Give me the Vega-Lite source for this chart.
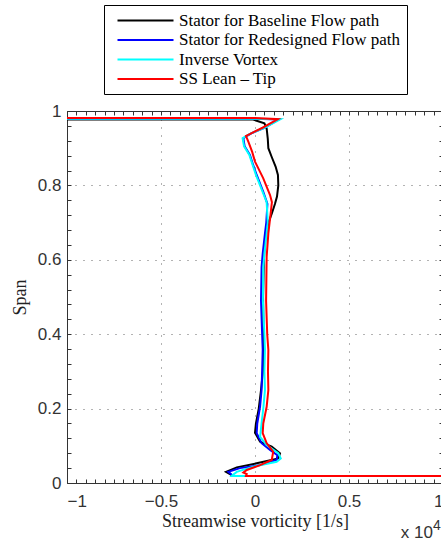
{
  "$schema": "https://vega.github.io/schema/vega-lite/v6.json",
  "width": 376,
  "height": 372,
  "autosize": "none",
  "padding": {"left": 67, "top": 111, "right": 0, "bottom": 60},
  "background": "white",
  "config": {
    "view": {"stroke": null},
    "axis": {
      "domainColor": "#333",
      "tickColor": "#333",
      "tickSize": -4,
      "labelFont": "Liberation Sans",
      "labelFontSize": 17,
      "labelColor": "#333",
      "labelOverlap": false,
      "titleFont": "Liberation Serif",
      "titleFontSize": 18,
      "titleFontWeight": "normal",
      "titleColor": "#222",
      "gridColor": "#666",
      "gridDash": [1, 7],
      "gridWidth": 1
    },
    "legend": {
      "orient": "none",
      "legendX": 37,
      "legendY": -106,
      "symbolType": "M-4,0H4",
      "symbolSize": 196,
      "symbolStrokeWidth": 2,
      "labelFont": "Liberation Serif",
      "labelFontSize": 17,
      "labelColor": "black",
      "labelLimit": 0,
      "labelOffset": 25,
      "strokeColor": "black",
      "fillColor": "white",
      "padding": 7,
      "symbolOffset": 26,
      "rowPadding": 1.5
    }
  },
  "data": {"values": [
    {"s": "Stator for Baseline Flow path", "i": 0, "x": -1, "y": 0.977},
    {"s": "Stator for Baseline Flow path", "i": 1, "x": -0.01, "y": 0.977},
    {"s": "Stator for Baseline Flow path", "i": 2, "x": 0.05, "y": 0.967},
    {"s": "Stator for Baseline Flow path", "i": 3, "x": 0.062, "y": 0.953},
    {"s": "Stator for Baseline Flow path", "i": 4, "x": 0.068, "y": 0.925},
    {"s": "Stator for Baseline Flow path", "i": 5, "x": 0.071, "y": 0.9},
    {"s": "Stator for Baseline Flow path", "i": 6, "x": 0.09, "y": 0.875},
    {"s": "Stator for Baseline Flow path", "i": 7, "x": 0.11, "y": 0.85},
    {"s": "Stator for Baseline Flow path", "i": 8, "x": 0.122, "y": 0.828},
    {"s": "Stator for Baseline Flow path", "i": 9, "x": 0.124, "y": 0.8},
    {"s": "Stator for Baseline Flow path", "i": 10, "x": 0.117, "y": 0.77},
    {"s": "Stator for Baseline Flow path", "i": 11, "x": 0.106, "y": 0.75},
    {"s": "Stator for Baseline Flow path", "i": 12, "x": 0.09, "y": 0.725},
    {"s": "Stator for Baseline Flow path", "i": 13, "x": 0.072, "y": 0.7},
    {"s": "Stator for Baseline Flow path", "i": 14, "x": 0.06, "y": 0.675},
    {"s": "Stator for Baseline Flow path", "i": 15, "x": 0.053, "y": 0.65},
    {"s": "Stator for Baseline Flow path", "i": 16, "x": 0.047, "y": 0.6},
    {"s": "Stator for Baseline Flow path", "i": 17, "x": 0.043, "y": 0.5},
    {"s": "Stator for Baseline Flow path", "i": 18, "x": 0.045, "y": 0.4},
    {"s": "Stator for Baseline Flow path", "i": 19, "x": 0.042, "y": 0.3},
    {"s": "Stator for Baseline Flow path", "i": 20, "x": 0.032, "y": 0.25},
    {"s": "Stator for Baseline Flow path", "i": 21, "x": 0.02, "y": 0.2},
    {"s": "Stator for Baseline Flow path", "i": 22, "x": 0.005, "y": 0.16},
    {"s": "Stator for Baseline Flow path", "i": 23, "x": 0.0, "y": 0.135},
    {"s": "Stator for Baseline Flow path", "i": 24, "x": 0.027, "y": 0.111},
    {"s": "Stator for Baseline Flow path", "i": 25, "x": 0.089, "y": 0.098},
    {"s": "Stator for Baseline Flow path", "i": 26, "x": 0.133, "y": 0.08},
    {"s": "Stator for Baseline Flow path", "i": 27, "x": 0.124, "y": 0.066},
    {"s": "Stator for Baseline Flow path", "i": 28, "x": 0.009, "y": 0.053},
    {"s": "Stator for Baseline Flow path", "i": 29, "x": -0.097, "y": 0.042},
    {"s": "Stator for Baseline Flow path", "i": 30, "x": -0.154, "y": 0.03},
    {"s": "Stator for Baseline Flow path", "i": 31, "x": -0.133, "y": 0.024},
    {"s": "Stator for Baseline Flow path", "i": 32, "x": -0.115, "y": 0.019},
    {"s": "Stator for Baseline Flow path", "i": 33, "x": 1, "y": 0.019},

    {"s": "Stator for Redesigned Flow path", "i": 0, "x": -1, "y": 0.979},
    {"s": "Stator for Redesigned Flow path", "i": 1, "x": 0.0, "y": 0.979},
    {"s": "Stator for Redesigned Flow path", "i": 2, "x": 0.125, "y": 0.977},
    {"s": "Stator for Redesigned Flow path", "i": 3, "x": 0.05, "y": 0.955},
    {"s": "Stator for Redesigned Flow path", "i": 4, "x": -0.02, "y": 0.94},
    {"s": "Stator for Redesigned Flow path", "i": 5, "x": -0.062, "y": 0.927},
    {"s": "Stator for Redesigned Flow path", "i": 6, "x": -0.055, "y": 0.905},
    {"s": "Stator for Redesigned Flow path", "i": 7, "x": -0.027, "y": 0.882},
    {"s": "Stator for Redesigned Flow path", "i": 8, "x": -0.01, "y": 0.855},
    {"s": "Stator for Redesigned Flow path", "i": 9, "x": 0.009, "y": 0.828},
    {"s": "Stator for Redesigned Flow path", "i": 10, "x": 0.044, "y": 0.783},
    {"s": "Stator for Redesigned Flow path", "i": 11, "x": 0.066, "y": 0.75},
    {"s": "Stator for Redesigned Flow path", "i": 12, "x": 0.06, "y": 0.7},
    {"s": "Stator for Redesigned Flow path", "i": 13, "x": 0.053, "y": 0.671},
    {"s": "Stator for Redesigned Flow path", "i": 14, "x": 0.041, "y": 0.617},
    {"s": "Stator for Redesigned Flow path", "i": 15, "x": 0.035, "y": 0.58},
    {"s": "Stator for Redesigned Flow path", "i": 16, "x": 0.032, "y": 0.49},
    {"s": "Stator for Redesigned Flow path", "i": 17, "x": 0.038, "y": 0.4},
    {"s": "Stator for Redesigned Flow path", "i": 18, "x": 0.041, "y": 0.358},
    {"s": "Stator for Redesigned Flow path", "i": 19, "x": 0.038, "y": 0.3},
    {"s": "Stator for Redesigned Flow path", "i": 20, "x": 0.035, "y": 0.25},
    {"s": "Stator for Redesigned Flow path", "i": 21, "x": 0.027, "y": 0.205},
    {"s": "Stator for Redesigned Flow path", "i": 22, "x": 0.012, "y": 0.16},
    {"s": "Stator for Redesigned Flow path", "i": 23, "x": 0.009, "y": 0.134},
    {"s": "Stator for Redesigned Flow path", "i": 24, "x": 0.035, "y": 0.107},
    {"s": "Stator for Redesigned Flow path", "i": 25, "x": 0.08, "y": 0.089},
    {"s": "Stator for Redesigned Flow path", "i": 26, "x": 0.119, "y": 0.075},
    {"s": "Stator for Redesigned Flow path", "i": 27, "x": 0.115, "y": 0.062},
    {"s": "Stator for Redesigned Flow path", "i": 28, "x": 0.027, "y": 0.048},
    {"s": "Stator for Redesigned Flow path", "i": 29, "x": -0.08, "y": 0.04},
    {"s": "Stator for Redesigned Flow path", "i": 30, "x": -0.142, "y": 0.03},
    {"s": "Stator for Redesigned Flow path", "i": 31, "x": -0.124, "y": 0.022},
    {"s": "Stator for Redesigned Flow path", "i": 32, "x": -0.115, "y": 0.019},
    {"s": "Stator for Redesigned Flow path", "i": 33, "x": 1, "y": 0.019},

    {"s": "Inverse Vortex", "i": 0, "x": -1, "y": 0.979},
    {"s": "Inverse Vortex", "i": 1, "x": 0.0, "y": 0.979},
    {"s": "Inverse Vortex", "i": 2, "x": 0.135, "y": 0.978},
    {"s": "Inverse Vortex", "i": 3, "x": 0.05, "y": 0.955},
    {"s": "Inverse Vortex", "i": 4, "x": -0.03, "y": 0.938},
    {"s": "Inverse Vortex", "i": 5, "x": -0.066, "y": 0.927},
    {"s": "Inverse Vortex", "i": 6, "x": -0.058, "y": 0.905},
    {"s": "Inverse Vortex", "i": 7, "x": -0.03, "y": 0.882},
    {"s": "Inverse Vortex", "i": 8, "x": 0.005, "y": 0.828},
    {"s": "Inverse Vortex", "i": 9, "x": 0.04, "y": 0.783},
    {"s": "Inverse Vortex", "i": 10, "x": 0.062, "y": 0.755},
    {"s": "Inverse Vortex", "i": 11, "x": 0.068, "y": 0.7},
    {"s": "Inverse Vortex", "i": 12, "x": 0.062, "y": 0.671},
    {"s": "Inverse Vortex", "i": 13, "x": 0.05, "y": 0.617},
    {"s": "Inverse Vortex", "i": 14, "x": 0.044, "y": 0.58},
    {"s": "Inverse Vortex", "i": 15, "x": 0.042, "y": 0.49},
    {"s": "Inverse Vortex", "i": 16, "x": 0.05, "y": 0.4},
    {"s": "Inverse Vortex", "i": 17, "x": 0.053, "y": 0.358},
    {"s": "Inverse Vortex", "i": 18, "x": 0.05, "y": 0.3},
    {"s": "Inverse Vortex", "i": 19, "x": 0.053, "y": 0.25},
    {"s": "Inverse Vortex", "i": 20, "x": 0.045, "y": 0.205},
    {"s": "Inverse Vortex", "i": 21, "x": 0.035, "y": 0.16},
    {"s": "Inverse Vortex", "i": 22, "x": 0.027, "y": 0.124},
    {"s": "Inverse Vortex", "i": 23, "x": 0.062, "y": 0.102},
    {"s": "Inverse Vortex", "i": 24, "x": 0.124, "y": 0.08},
    {"s": "Inverse Vortex", "i": 25, "x": 0.137, "y": 0.066},
    {"s": "Inverse Vortex", "i": 26, "x": 0.115, "y": 0.057},
    {"s": "Inverse Vortex", "i": 27, "x": -0.009, "y": 0.044},
    {"s": "Inverse Vortex", "i": 28, "x": -0.097, "y": 0.03},
    {"s": "Inverse Vortex", "i": 29, "x": -0.12, "y": 0.021},
    {"s": "Inverse Vortex", "i": 30, "x": -0.124, "y": 0.019},
    {"s": "Inverse Vortex", "i": 31, "x": 1, "y": 0.019},

    {"s": "SS Lean – Tip", "i": 0, "x": -1, "y": 0.981},
    {"s": "SS Lean – Tip", "i": 1, "x": 0.0, "y": 0.981},
    {"s": "SS Lean – Tip", "i": 2, "x": 0.122, "y": 0.978},
    {"s": "SS Lean – Tip", "i": 3, "x": 0.04, "y": 0.955},
    {"s": "SS Lean – Tip", "i": 4, "x": -0.02, "y": 0.94},
    {"s": "SS Lean – Tip", "i": 5, "x": -0.048, "y": 0.933},
    {"s": "SS Lean – Tip", "i": 6, "x": -0.035, "y": 0.917},
    {"s": "SS Lean – Tip", "i": 7, "x": -0.015, "y": 0.89},
    {"s": "SS Lean – Tip", "i": 8, "x": 0.0, "y": 0.864},
    {"s": "SS Lean – Tip", "i": 9, "x": 0.044, "y": 0.819},
    {"s": "SS Lean – Tip", "i": 10, "x": 0.08, "y": 0.774},
    {"s": "SS Lean – Tip", "i": 11, "x": 0.09, "y": 0.755},
    {"s": "SS Lean – Tip", "i": 12, "x": 0.08, "y": 0.71},
    {"s": "SS Lean – Tip", "i": 13, "x": 0.071, "y": 0.671},
    {"s": "SS Lean – Tip", "i": 14, "x": 0.062, "y": 0.608},
    {"s": "SS Lean – Tip", "i": 15, "x": 0.059, "y": 0.49},
    {"s": "SS Lean – Tip", "i": 16, "x": 0.065, "y": 0.4},
    {"s": "SS Lean – Tip", "i": 17, "x": 0.071, "y": 0.358},
    {"s": "SS Lean – Tip", "i": 18, "x": 0.069, "y": 0.3},
    {"s": "SS Lean – Tip", "i": 19, "x": 0.071, "y": 0.25},
    {"s": "SS Lean – Tip", "i": 20, "x": 0.062, "y": 0.205},
    {"s": "SS Lean – Tip", "i": 21, "x": 0.044, "y": 0.16},
    {"s": "SS Lean – Tip", "i": 22, "x": 0.041, "y": 0.134},
    {"s": "SS Lean – Tip", "i": 23, "x": 0.062, "y": 0.107},
    {"s": "SS Lean – Tip", "i": 24, "x": 0.097, "y": 0.084},
    {"s": "SS Lean – Tip", "i": 25, "x": 0.089, "y": 0.062},
    {"s": "SS Lean – Tip", "i": 26, "x": 0.027, "y": 0.048},
    {"s": "SS Lean – Tip", "i": 27, "x": -0.044, "y": 0.035},
    {"s": "SS Lean – Tip", "i": 28, "x": -0.062, "y": 0.028},
    {"s": "SS Lean – Tip", "i": 29, "x": -0.044, "y": 0.024},
    {"s": "SS Lean – Tip", "i": 30, "x": -0.048, "y": 0.019},
    {"s": "SS Lean – Tip", "i": 31, "x": 1, "y": 0.019}
  ]},
  "layer": [
    {
      "transform": [{"filter": "datum.s === 'Stator for Baseline Flow path'"}],
      "mark": {"type": "line", "strokeWidth": 2, "clip": true},
      "encoding": {
        "x": {"field": "x", "type": "quantitative", "scale": {"domain": [-1, 1], "nice": false, "zero": false},
          "axis": {"orient": "bottom", "title": "Streamwise vorticity [1/s]", "titlePadding": 3, "labelPadding": 14, "grid": true,
            "values": [-1,-0.95,-0.9,-0.85,-0.8,-0.75,-0.7,-0.65,-0.6,-0.55,-0.5,-0.45,-0.4,-0.35,-0.3,-0.25,-0.2,-0.15,-0.1,-0.05,0,0.05,0.1,0.15,0.2,0.25,0.3,0.35,0.4,0.45,0.5,0.55,0.6,0.65,0.7,0.75,0.8,0.85,0.9,0.95,1],
            "labelExpr": "abs(datum.value*2 - round(datum.value*2)) < 1e-6 ? format(datum.value, '~g') : ''",
            "gridOpacity": {"condition": {"test": "abs(datum.value*2 - round(datum.value*2)) < 1e-6", "value": 1}, "value": 0}}},
        "y": {"field": "y", "type": "quantitative", "scale": {"domain": [0, 1], "nice": false, "zero": false},
          "axis": {"orient": "left", "title": "Span", "titlePadding": 8, "labelPadding": 10, "grid": true,
            "values": [0,0.04,0.08,0.12,0.16,0.2,0.24,0.28,0.32,0.36,0.4,0.44,0.48,0.52,0.56,0.6,0.64,0.68,0.72,0.76,0.8,0.84,0.88,0.92,0.96,1],
            "labelExpr": "abs(datum.value*5 - round(datum.value*5)) < 1e-6 ? format(datum.value, '~g') : ''",
            "gridOpacity": {"condition": {"test": "abs(datum.value*5 - round(datum.value*5)) < 1e-6", "value": 1}, "value": 0}}},
        "order": {"field": "i", "type": "quantitative"},
        "color": {"field": "s", "type": "nominal", "title": null,
          "scale": {"domain": ["Stator for Baseline Flow path", "Stator for Redesigned Flow path", "Inverse Vortex", "SS Lean – Tip"],
                    "range": ["#000000", "#0000ff", "#00ffff", "#ff0000"]}}
      }
    },
    {
      "transform": [{"filter": "datum.s === 'Stator for Redesigned Flow path'"}],
      "mark": {"type": "line", "strokeWidth": 2, "clip": true},
      "encoding": {
        "x": {"field": "x", "type": "quantitative", "scale": {"domain": [-1, 1], "nice": false, "zero": false}, "axis": null},
        "y": {"field": "y", "type": "quantitative", "scale": {"domain": [0, 1], "nice": false, "zero": false}, "axis": null},
        "order": {"field": "i", "type": "quantitative"},
        "color": {"field": "s", "type": "nominal", "title": null}
      }
    },
    {
      "transform": [{"filter": "datum.s === 'Inverse Vortex'"}],
      "mark": {"type": "line", "strokeWidth": 2, "clip": true},
      "encoding": {
        "x": {"field": "x", "type": "quantitative", "scale": {"domain": [-1, 1], "nice": false, "zero": false}, "axis": null},
        "y": {"field": "y", "type": "quantitative", "scale": {"domain": [0, 1], "nice": false, "zero": false}, "axis": null},
        "order": {"field": "i", "type": "quantitative"},
        "color": {"field": "s", "type": "nominal", "title": null}
      }
    },
    {
      "transform": [{"filter": "datum.s === 'SS Lean – Tip'"}],
      "mark": {"type": "line", "strokeWidth": 2, "clip": true},
      "encoding": {
        "x": {"field": "x", "type": "quantitative", "scale": {"domain": [-1, 1], "nice": false, "zero": false}, "axis": null},
        "y": {"field": "y", "type": "quantitative", "scale": {"domain": [0, 1], "nice": false, "zero": false}, "axis": null},
        "order": {"field": "i", "type": "quantitative"},
        "color": {"field": "s", "type": "nominal", "title": null}
      }
    },
    {
      "mark": {"type": "line", "opacity": 0},
      "encoding": {
        "x": {"field": "x", "type": "quantitative", "scale": {"domain": [-1, 1], "nice": false, "zero": false},
          "axis": {"orient": "top", "title": null, "labels": false, "grid": false,
            "values": [-1,-0.95,-0.9,-0.85,-0.8,-0.75,-0.7,-0.65,-0.6,-0.55,-0.5,-0.45,-0.4,-0.35,-0.3,-0.25,-0.2,-0.15,-0.1,-0.05,0,0.05,0.1,0.15,0.2,0.25,0.3,0.35,0.4,0.45,0.5,0.55,0.6,0.65,0.7,0.75,0.8,0.85,0.9,0.95,1]}},
        "y": {"field": "y", "type": "quantitative", "scale": {"domain": [0, 1], "nice": false, "zero": false},
          "axis": {"orient": "right", "title": null, "labels": false, "grid": false,
            "values": [0,0.04,0.08,0.12,0.16,0.2,0.24,0.28,0.32,0.36,0.4,0.44,0.48,0.52,0.56,0.6,0.64,0.68,0.72,0.76,0.8,0.84,0.88,0.92,0.96,1]}},
        "order": {"field": "i", "type": "quantitative"},
        "detail": {"field": "s", "type": "nominal"}
      }
    },
    {
      "data": {"values": [{"t": "x 10"}]},
      "mark": {"type": "text", "align": "right", "baseline": "middle", "dx": -10, "dy": 50, "font": "Liberation Sans", "fontSize": 17, "color": "#333"},
      "encoding": {
        "x": {"datum": 1, "type": "quantitative", "axis": null},
        "y": {"datum": 0, "type": "quantitative", "axis": null},
        "text": {"field": "t"}
      }
    },
    {
      "data": {"values": [{"t": "4"}]},
      "mark": {"type": "text", "align": "left", "baseline": "middle", "dx": -10, "dy": 43, "font": "Liberation Sans", "fontSize": 14, "color": "#333"},
      "encoding": {
        "x": {"datum": 1, "type": "quantitative", "axis": null},
        "y": {"datum": 0, "type": "quantitative", "axis": null},
        "text": {"field": "t"}
      }
    }
  ],
  "resolve": {"axis": {"x": "independent", "y": "independent"}}
}
